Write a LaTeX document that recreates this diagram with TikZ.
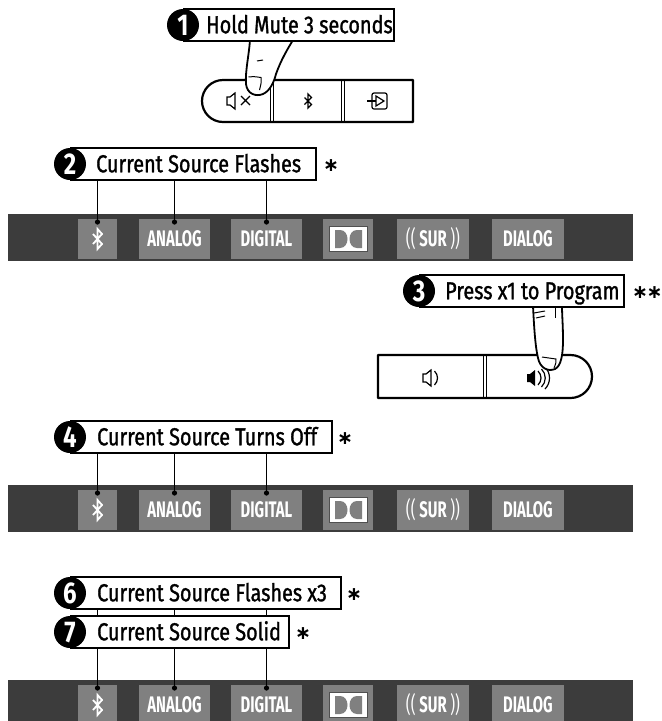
\documentclass[tikz,border=0pt]{standalone}
\usepackage{fontspec}
\setmainfont{Fira Sans}[FakeStretch=0.81,FakeBold=1.2]
\newfontfamily\btnfont{Fira Sans}[FakeStretch=0.66]
\newfontfamily\numfont{Fira Sans}[FakeStretch=0.8]
\newfontfamily\symfont{DejaVu Sans}
\definecolor{bardark}{HTML}{3C3C3C}
\definecolor{btngray}{HTML}{808080}
\definecolor{dolbyedge}{HTML}{505050}
\begin{document}
\begin{tikzpicture}[x=1pt,y=-1pt,
  lbox/.style={draw=black, line width=1.8pt, fill=white, minimum height=32pt, inner sep=0pt, anchor=west},
  ltext/.style={anchor=west, inner sep=0pt, text height=16.5pt, text depth=0pt, font=\fontsize{24.5}{24.5}\selectfont},
  numc/.style={circle, fill=black, minimum size=32pt, inner sep=0pt, text=white, font=\numfont\bfseries\fontsize{30}{30}\selectfont, text height=21pt, text depth=0pt},
  ast/.style={inner sep=0pt, font=\symfont\bfseries\fontsize{19}{19}\selectfont},
  btn/.style={fill=btngray, minimum height=40pt, inner sep=0pt, text=white, font=\btnfont\bfseries\fontsize{22.5}{22.5}\selectfont, text height=15.5pt, text depth=0pt},
  leader/.style={line width=1.8pt},
  remote/.style={line width=2.2pt, line join=round},
  divider/.style={line width=1pt},
  finger/.style={fill=white, draw=black, line width=1.8pt, line join=round},
  icon/.style={line width=1.2pt, line join=miter},
]
\useasboundingbox (0,0) rectangle (662,721);
\fill[white] (0,0) rectangle (662,721);

% ---------- indicator bars ----------
\foreach \n/\t in {1/214,2/485,3/680}{
  \fill[bardark] (8,\t) rectangle (633,\t+47);
  \node[btn, minimum width=39pt] (bt\n) at (97.5,\t+25) {};
  \node[btn, minimum width=71pt] (an\n) at (174.5,\t+25) {ANALOG};
  \node[btn, minimum width=71pt] (dg\n) at (266.5,\t+25) {DIGITAL};
  \node[btn, minimum width=50pt] (db\n) at (348,\t+25) {};
  \node[btn, minimum width=72pt] (sr\n) at (433,\t+25) {{\mdseries((}\,SUR\,{\mdseries))}};
  \node[btn, minimum width=72pt] (dl\n) at (528,\t+25) {DIALOG};
  \begin{scope}[shift={(bt\n.center)}]
    \draw[white, line width=1.8pt, line join=miter] (-4.5,-5) -- (4.5,5) -- (0,10) -- (0,-10) -- (4.5,-5) -- (-4.5,5);
  \end{scope}
  \begin{scope}[shift={(db\n.center)}]
    \draw[fill=white, draw=dolbyedge, line width=1pt] (-19,-13) rectangle (19,12);
    \fill[btngray] (-13,-9) -- (-8,-9) .. controls (2,-9) and (2,9) .. (-8,9) -- (-13,9) -- cycle;
    \fill[btngray] (14,-9) -- (9,-9) .. controls (-1,-9) and (-1,9) .. (9,9) -- (14,9) -- cycle;
  \end{scope}
  \coordinate (da\n) at (97.5,\t+8);
  \coordinate (dn\n) at (174.5,\t+8);
  \coordinate (dd\n) at (266.5,\t+8);
}

% ---------- remote 1 ----------
\draw[remote] (413,80) -- (223,80) arc[start angle=-90,end angle=-270,radius=21] -- (413,122) -- cycle;
\draw[divider] (270.5,80) -- (270.5,122) (273.5,80) -- (273.5,122);
\draw[divider] (341.5,80) -- (341.5,122) (344.5,80) -- (344.5,122);
% mute icon
\draw[icon] (227,97) -- (230,97) -- (235,93) -- (235,109) -- (230,105) -- (227,105) -- cycle;
\draw[icon] (241,96) -- (250,105) (241,105) -- (250,96);
% bluetooth icon
\begin{scope}[shift={(308,101)}]
  \draw[line width=1.3pt, line join=miter] (-3.5,-3.5) -- (3.5,3.5) -- (0,7) -- (0,-7) -- (3.5,-3.5) -- (-3.5,3.5);
\end{scope}
% input icon
\draw[icon, rounded corners=2pt] (372,93) rectangle (387,109);
\draw[icon] (376,96) -- (384,101) -- (376,106) -- cycle;
\draw[icon] (367,101) -- (376,101);
% finger 1
\draw[finger] (250,40) .. controls (249,55) and (245,72) .. (246,84) .. controls (247,94) and (256,97) .. (263,94) .. controls (270,91) and (274,82) .. (276,74) .. controls (281,60) and (287,50) .. (293,40);
\draw[line width=1pt] (248.5,77) .. controls (254,76.5) .. (261,77.5) .. controls (261.5,82) .. (259.5,90);
\draw[line width=1pt] (257,61) -- (263,60);

% ---------- remote 3 ----------
\draw[remote] (378,355) -- (570.5,355) arc[start angle=-90,end angle=90,radius=21.5] -- (378,398) -- cycle;
\draw[divider] (483.5,355) -- (483.5,398) (486.5,355) -- (486.5,398);
\draw[icon] (423,374) -- (426,374) -- (431,370) -- (431,386) -- (426,382) -- (423,382) -- cycle;
\draw[icon] (434.5,371) .. controls (438.5,375) and (438.5,381) .. (434.5,385);
\fill (527,374) -- (530,374) -- (535,370) -- (535,386) -- (530,382) -- (527,382) -- cycle;
\draw[icon] (538,371) .. controls (542,375) and (542,381) .. (538,385);
\draw[icon] (541.5,369) .. controls (546.5,374) and (546.5,382) .. (541.5,387);
\draw[icon] (545,367) .. controls (551,373) and (551,383) .. (545,389);
% finger 3
\draw[finger] (533,306) .. controls (534,325) and (535,345) .. (538,358) .. controls (540,368) and (548,372) .. (555,369) .. controls (561,366) and (563,355) .. (563,340) .. controls (563,325) and (562,315) .. (562,306);
\draw[line width=1pt] (542,357) .. controls (549,357.5) .. (556,359) .. controls (556,363) .. (554,368);
\draw[line width=1pt] (534,313) -- (545,311) (536,318) -- (545,316);
\draw[line width=1pt] (555,306) -- (555,318);

% ---------- label boxes ----------
\node[lbox, minimum width=210pt] (b1) at (183,25) {};
\node[lbox, minimum width=245pt] (b2) at (70,164) {};
\node[lbox, minimum width=204pt] (b3) at (419,291) {};
\node[lbox, minimum width=261pt] (b4) at (70,437) {};
\node[lbox, minimum width=270pt] (b6) at (70,593) {};
\node[lbox, minimum width=218pt] (b7) at (70,632) {};

\node[ltext] (t1) at (206,25) {Hold Mute 3 seconds};
\node[ltext] (t2) at (96,164) {Current Source Flashes};
\node[ltext] (t3) at (445,291) {Press x1 to Program};
\node[ltext] (t4) at (97,437) {Current Source Turns Off};
\node[ltext] (t6) at (97,593) {Current Source Flashes x3};
\node[ltext] (t7) at (97,632) {Current Source Solid};

\node[numc] (n1) at (183,25) {1};
\node[numc] (n2) at (70,164) {2};
\node[numc] (n3) at (419,291) {3};
\node[numc] (n4) at (70,437) {4};
\node[numc] (n6) at (70,593) {6};
\node[numc] (n7) at (70,632) {7};

\node[ast] (a2) at (331,166) {∗};
\node[ast, anchor=west] (a3) at (632,293) {∗\kern-1.5pt∗};
\node[ast] (a4) at (345,439) {∗};
\node[ast] (a6) at (354,595) {∗};
\node[ast] (a7) at (303,634) {∗};

% ---------- leaders ----------
\foreach \d in {da1,dn1,dd1}{
  \draw[leader] (b2.south -| \d) -- (\d);
  \fill (\d) circle[radius=2.6pt];
}
\foreach \d in {da2,dn2,dd2}{
  \draw[leader] (b4.south -| \d) -- (\d);
  \fill (\d) circle[radius=2.6pt];
}
\foreach \d in {da3,dn3,dd3}{
  \draw[leader] (b6.south -| \d) -- (b7.north -| \d);
  \draw[leader] (b7.south -| \d) -- (\d);
  \fill (\d) circle[radius=2.6pt];
}
\end{tikzpicture}
\end{document}
